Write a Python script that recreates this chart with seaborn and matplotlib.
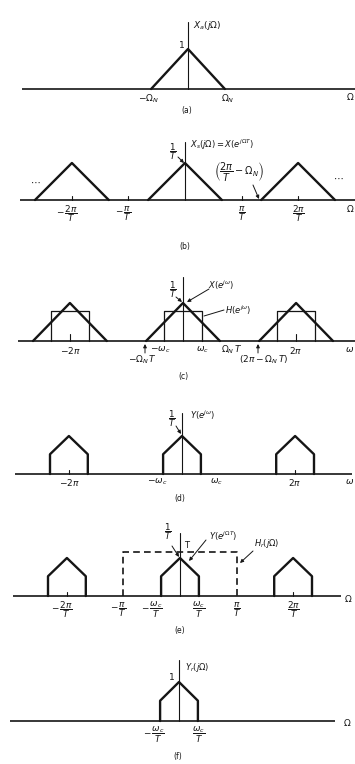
import numpy as np
import matplotlib
matplotlib.use("Agg")
import matplotlib.pyplot as plt
import seaborn as sns

sns.set_theme(style="white")
plt.rcParams["font.family"] = ["DejaVu Sans"]
plt.rcParams["mathtext.fontset"] = "dejavusans"

# ---- spectra (frequency in units of Omega*T, amplitude normalised to the peak) ----
image_centers = [-2 * np.pi, 0.0, 2 * np.pi]          # replicas at multiples of 2*pi/T
tri_freq = [-2.05, 0.0, 2.05]                         # band-limited spectrum, +/- Omega_N
tri_amp = [0.0, 1.0, 0.0]
clip_freq = [-1.05, -1.05, 0.0, 1.05, 1.05]           # spectrum after the ideal lowpass, +/- omega_c
clip_amp = [0.0, 0.52, 1.0, 0.52, 0.0]
lpf_freq = [-1.05, -1.05, 1.05, 1.05]                 # H(e^{jw})
lpf_amp = [0.0, 0.79, 0.79, 0.0]
recon_freq = [-np.pi, -np.pi, np.pi, np.pi]           # H_r(jOmega), cutoff pi/T
recon_amp = [0.0, 1.15, 1.15, 0.0]

W, H = 355, 764
INK = "#151515"
FS = 6.5
FR = 6.4   # size of stacked fractions

fig = plt.figure(figsize=(W / 100, H / 100), dpi=100)
fig.patch.set_facecolor("white")


class Panel:
    """One strip of the figure; data units: x in rad (kx px each), y in peak units."""

    def __init__(self, axis_y, cx, top, bottom, ky, kx=18.0):
        self.ax = fig.add_axes([0, 1 - bottom / H, 1, (bottom - top) / H])
        self.ax.set_xlim(-cx / kx, (W - cx) / kx)
        self.ax.set_ylim(-(bottom - axis_y) / ky, (axis_y - top) / ky)
        self.ax.axis("off")
        self.ax.patch.set_alpha(0)
        self.cx, self.ay, self.kx, self.ky = cx, axis_y, kx, ky

    def p(self, x, y):
        return ((x - self.cx) / self.kx, (self.ay - y) / self.ky)

    def text(self, x, y, s, size=FS, ha="center", va="center"):
        self.ax.text(*self.p(x, y), s, fontsize=size, ha=ha, va=va, color=INK)

    def tlabel(self, f, y, s, size=FS):
        # label placed under a frequency value
        self.ax.text(f, (self.ay - y) / self.ky, s, fontsize=size, ha="center",
                     va="center", color=INK)

    def arrow(self, tail, tip, lw=0.7):
        self.ax.annotate("", xy=self.p(*tip), xytext=self.p(*tail),
                         arrowprops=dict(arrowstyle="-|>", color=INK, lw=lw,
                                         mutation_scale=5, shrinkA=0, shrinkB=0))

    def leader(self, tail, tip, lw=0.7):
        xs = [self.p(*tail)[0], self.p(*tip)[0]]
        ys = [self.p(*tail)[1], self.p(*tip)[1]]
        self.ax.plot(xs, ys, color=INK, lw=lw)

    def baseline(self, x0, x1, lw=1.2):
        self.ax.plot([self.p(x0, 0)[0], self.p(x1, 0)[0]], [0, 0], color=INK, lw=lw,
                     solid_capstyle="butt")

    def vaxis(self, top, lw=0.8):
        self.ax.plot([0, 0], [0, (self.ay - top) / self.ky], color=INK, lw=lw)

    def tick(self, f, h_px=4, lw=0.8):
        self.ax.plot([f, f], [0, h_px / self.ky], color=INK, lw=lw)

    def shape(self, xs, ys, shift=0.0, lw=1.7, **kw):
        sns.lineplot(x=np.asarray(xs) + shift, y=ys, ax=self.ax, sort=False,
                     estimator=None, legend=False, color=INK, linewidth=lw, **kw)


# ---------------- (a) ----------------
a = Panel(axis_y=89, cx=188, top=0, bottom=118, ky=40)
a.baseline(22, 355)
a.vaxis(22)
a.shape(tri_freq, tri_amp)
a.text(193, 25, r"$X_a(j\Omega)$", ha="left")
a.text(182, 45, "1")
a.tlabel(tri_freq[0] - 0.15, 99, r"$-\Omega_N$")
a.tlabel(tri_freq[2] + 0.15, 99, r"$\Omega_N$")
a.text(350, 97, r"$\Omega$")
a.text(187, 110, "(a)", size=5.5)

# ---------------- (b) ----------------
b = Panel(axis_y=200, cx=185, top=118, bottom=255, ky=37)
b.baseline(20, 355)
b.vaxis(142)
for c0 in image_centers:
    b.shape(tri_freq, tri_amp, shift=c0)
for f in [-2 * np.pi, -np.pi, np.pi, 2 * np.pi]:
    b.tick(f)
b.text(190, 145, r"$X_s(j\Omega) = X(e^{j\Omega T})$", ha="left", size=6)
b.text(173, 152, r"$\dfrac{1}{T}$", size=FR)
b.arrow((178, 157), (184, 163))
b.text(239, 172, r"$\left(\dfrac{2\pi}{T}-\Omega_N\right)$", size=7)
b.arrow((253, 185), (259, 199))
b.text(35, 182, r"$\cdots$", size=7)
b.text(338, 178, r"$\cdots$", size=7)
b.tlabel(-2 * np.pi - 0.3, 214, r"$-\,\dfrac{2\pi}{T}$", size=FR)
b.tlabel(-np.pi - 0.3, 214, r"$-\,\dfrac{\pi}{T}$", size=FR)
b.tlabel(np.pi, 214, r"$\dfrac{\pi}{T}$", size=FR)
b.tlabel(2 * np.pi, 214, r"$\dfrac{2\pi}{T}$", size=FR)
b.text(350, 209, r"$\Omega$")
b.text(185, 246, "(b)", size=5.5)

# ---------------- (c) ----------------
c = Panel(axis_y=341, cx=183, top=255, bottom=392, ky=38)
c.baseline(18, 355)
c.vaxis(277)
for c0 in image_centers:
    c.shape(lpf_freq, lpf_amp, shift=c0, lw=0.9)
    c.shape(tri_freq, tri_amp, shift=c0)
for f in [-2 * np.pi, 2 * np.pi]:
    c.tick(f, h_px=7)
c.text(173, 290, r"$\dfrac{1}{T}$", size=FR)
c.arrow((176, 297), (182, 302))
c.text(221, 285, r"$X(e^{j\omega})$", size=6)
c.arrow((209, 289), (187, 302))
c.text(238, 310, r"$H(e^{j\omega})$", size=6)
c.leader((224, 310), (204, 316))
c.tlabel(-2 * np.pi, 350, r"$-2\pi$")
c.tlabel(-lpf_freq[2] - 0.2, 350, r"$-\omega_c$")
c.tlabel(lpf_freq[2] + 0.05, 350, r"$\omega_c$")
c.tlabel(tri_freq[2] + 0.65, 350, r"$\Omega_N\,T$")
c.tlabel(2 * np.pi, 350, r"$2\pi$")
c.text(350, 350, r"$\omega$")
c.arrow((145, 353), (145, 344))
c.text(143, 360, r"$-\Omega_N\,T$")
c.arrow((258, 353), (258, 344))
c.text(264, 360, r"$(2\pi - \Omega_N\,T)$")
c.text(183, 377, "(c)", size=5.5)

# ---------------- (d) ----------------
d = Panel(axis_y=474, cx=182, top=392, bottom=510, ky=38)
d.baseline(15, 352)
d.vaxis(413)
for c0 in image_centers:
    d.shape(clip_freq, clip_amp, shift=c0)
for f in [-2 * np.pi, 2 * np.pi]:
    d.tick(f)
d.text(172, 419, r"$\dfrac{1}{T}$", size=FR)
d.arrow((176, 426), (181, 434))
d.text(190, 415, r"$Y(e^{j\omega})$", ha="left", size=6)
d.tlabel(-2 * np.pi, 482, r"$-2\pi$")
d.tlabel(clip_freq[0] - 0.35, 482, r"$-\omega_c$")
d.tlabel(clip_freq[4] + 0.85, 482, r"$\omega_c$")
d.tlabel(2 * np.pi, 482, r"$2\pi$")
d.text(350, 482, r"$\omega$")
d.text(180, 498, "(d)", size=5.5)

# ---------------- (e) ----------------
e = Panel(axis_y=596, cx=180, top=510, bottom=645, ky=38)
e.baseline(13, 341)
e.vaxis(533)
for c0 in image_centers:
    e.shape(clip_freq, clip_amp, shift=c0)
e.shape(recon_freq, recon_amp, lw=1.2, linestyle=(0, (4, 2.5)))
for f in [-2 * np.pi, 2 * np.pi]:
    e.tick(f)
e.text(168, 532, r"$\dfrac{1}{T}$", size=FR)
e.arrow((172, 546), (179, 557))
e.text(187, 545, "T", size=6)
e.text(223, 536, r"$Y(e^{j\Omega T})$", size=6)
e.arrow((206, 540), (189, 561))
e.text(267, 544, r"$H_r(j\Omega)$", size=6)
e.arrow((253, 551), (240, 563))
e.tlabel(-2 * np.pi - 0.3, 610, r"$-\,\dfrac{2\pi}{T}$", size=FR)
e.tlabel(-np.pi - 0.3, 610, r"$-\,\dfrac{\pi}{T}$", size=FR)
e.tlabel(clip_freq[0] - 0.5, 610, r"$-\,\dfrac{\omega_c}{T}$", size=FR)
e.tlabel(clip_freq[4], 610, r"$\dfrac{\omega_c}{T}$", size=FR)
e.tlabel(np.pi, 610, r"$\dfrac{\pi}{T}$", size=FR)
e.tlabel(2 * np.pi, 610, r"$\dfrac{2\pi}{T}$", size=FR)
e.text(348, 599, r"$\Omega$")
e.text(180, 630, "(e)", size=5.5)

# ---------------- (f) ----------------
g = Panel(axis_y=721, cx=179, top=645, bottom=764, ky=39)
g.baseline(10, 335)
g.vaxis(660)
g.shape(clip_freq, clip_amp)
g.text(185, 668, r"$Y_r(j\Omega)$", ha="left", size=6)
g.text(172, 678, "1")
g.tlabel(clip_freq[0] - 0.35, 735, r"$-\,\dfrac{\omega_c}{T}$", size=FR)
g.tlabel(clip_freq[4] + 0.05, 735, r"$\dfrac{\omega_c}{T}$", size=FR)
g.text(347, 723, r"$\Omega$")
g.text(178, 756, "(f)", size=5.5)

fig.savefig("out.png", dpi=100, facecolor="white")
